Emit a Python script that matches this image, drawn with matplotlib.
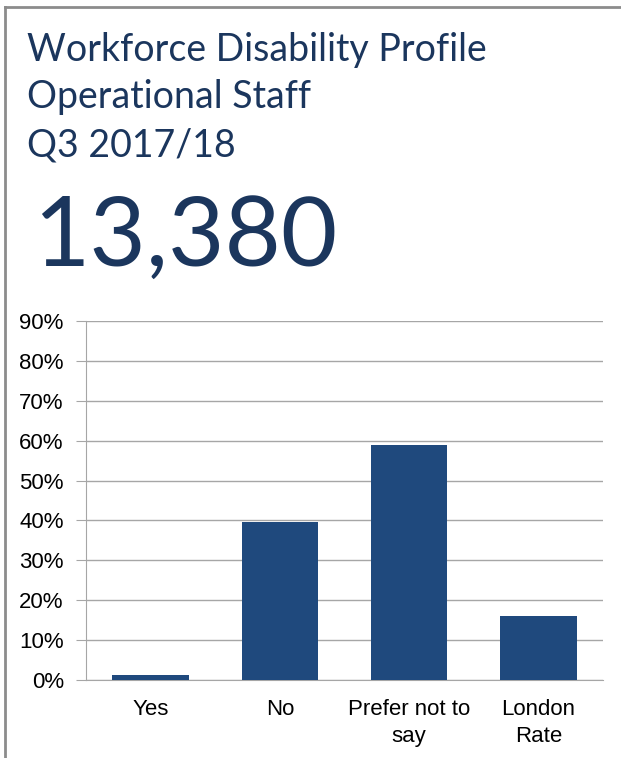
import matplotlib
matplotlib.use("Agg")
import matplotlib.pyplot as plt
from matplotlib.ticker import PercentFormatter, MultipleLocator
from matplotlib.lines import Line2D

categories = ["Yes", "No", "Prefer not to\nsay", "London\nRate"]
values = [0.012, 0.397, 0.588, 0.160]
title_lines = ["Workforce Disability Profile", "Operational Staff", "Q3 2017/18"]
headline = "13,380"

W, H = 621, 758
fig = plt.figure(figsize=(W / 100, H / 100), dpi=100)
navy = "#1b365d"
bar_color = "#1f497d"
grid_color = "#a6a6a6"

# frame border (top and left)
fig.add_artist(Line2D([5 / W, 5 / W], [0, 1 - 7 / H], transform=fig.transFigure, color="#8c8c8c", lw=2))
fig.add_artist(Line2D([5 / W, 1], [1 - 7 / H, 1 - 7 / H], transform=fig.transFigure, color="#8c8c8c", lw=2))

# titles
baselines = [61, 108, 157]
for line, b in zip(title_lines, baselines):
    fig.text(27 / W, 1 - b / H, line, fontsize=27, color=navy, family="Lato",
             va="baseline", ha="left")
fig.text(33 / W, 1 - 266 / H, headline, fontsize=70, color=navy, family="Lato",
         va="baseline", ha="left")

ax = fig.add_axes([86 / W, 1 - 680 / H, (603 - 86) / W, (680 - 321) / H])
x = list(range(len(categories)))
ax.bar(x, values, width=0.59, color=bar_color, zorder=3)
ax.set_xlim(-0.5, len(categories) - 0.5)
ax.set_ylim(0, 0.9)
ax.yaxis.set_major_locator(MultipleLocator(0.1))
ax.yaxis.set_major_formatter(PercentFormatter(1.0, decimals=0))
ax.grid(axis="y", color=grid_color, lw=1, zorder=0)
ax.set_xticks(x)
ax.set_xticklabels(categories, family="Liberation Sans", fontsize=16, linespacing=1.35)
for lab in ax.get_yticklabels():
    lab.set_family("Liberation Sans")
    lab.set_fontsize(16)
ax.tick_params(axis="x", length=0, pad=14)
ax.tick_params(axis="y", length=7, color=grid_color, pad=9)
for s in ["top", "right"]:
    ax.spines[s].set_visible(False)
ax.spines["left"].set_color(grid_color)
ax.spines["bottom"].set_color(grid_color)

fig.savefig("out.png", dpi=100)
